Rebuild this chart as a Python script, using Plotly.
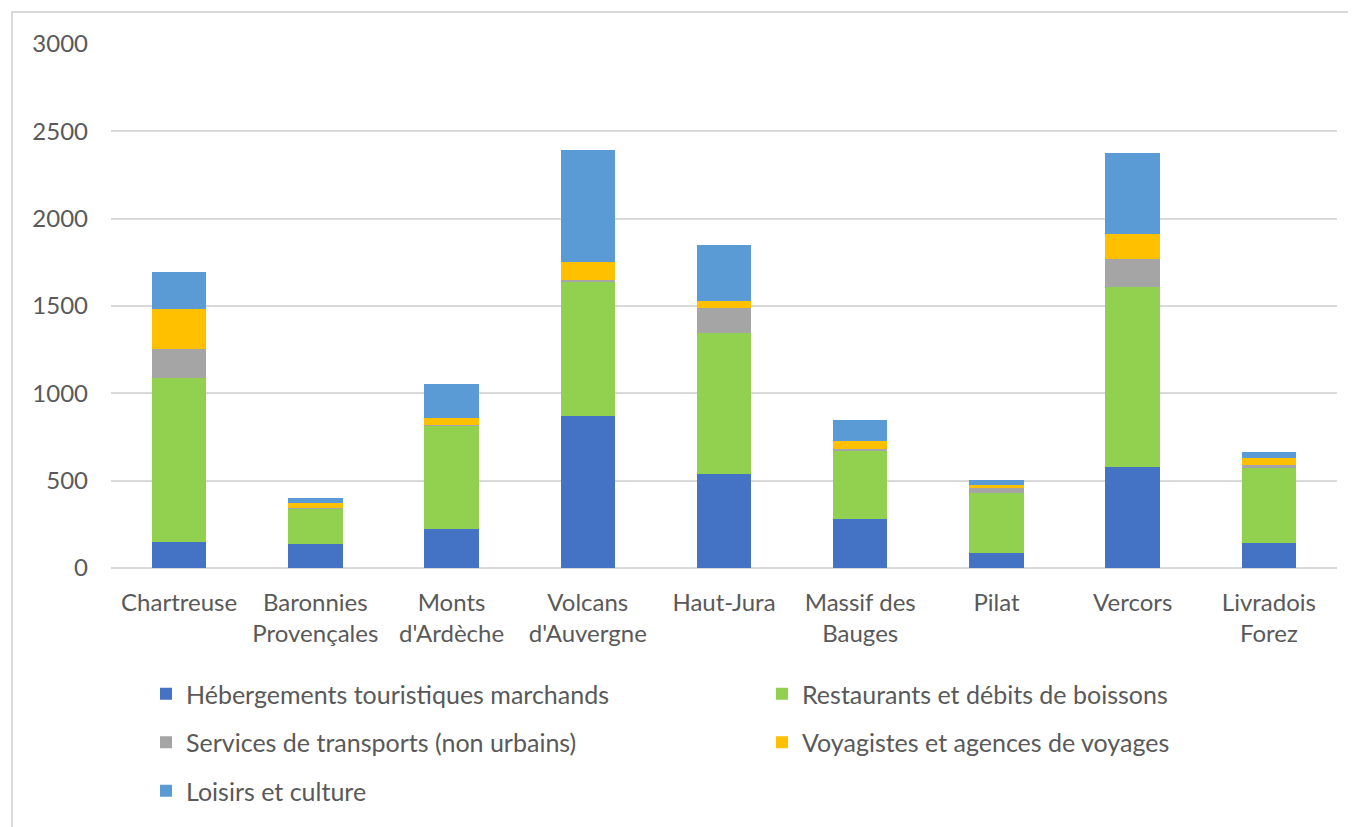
import plotly.graph_objects as go

categories = ["Chartreuse", "Baronnies<br>Provençales", "Monts<br>d'Ardèche", "Volcans<br>d'Auvergne",
              "Haut-Jura", "Massif des<br>Bauges", "Pilat", "Vercors", "Livradois<br>Forez"]

hebergements = [150, 135, 223, 872, 538, 280, 84, 580, 141]
restaurants = [940, 207, 592, 771, 805, 395, 344, 1027, 433]
transports = [165, 4, 3, 5, 147, 4, 34, 160, 16]
voyagistes = [230, 26, 39, 103, 40, 46, 11, 147, 40]
loisirs = [210, 30, 194, 642, 317, 122, 33, 463, 32]

y_ticks = [0, 500, 1000, 1500, 2000, 2500, 3000]

series = [
    ("Hébergements touristiques marchands", hebergements, "#4472C4", "legend"),
    ("Restaurants et débits de boissons", restaurants, "#92D050", "legend2"),
    ("Services de transports (non urbains)", transports, "#A5A5A5", "legend"),
    ("Voyagistes et agences de voyages", voyagistes, "#FFC000", "legend2"),
    ("Loisirs et culture", loisirs, "#5B9BD5", "legend"),
]

FONT = "Lato"
GREY = "#595959"
FS = 24

fig = go.Figure()
for i, (name, vals, color, leg) in enumerate(series):
    fig.add_trace(go.Bar(
        x=categories, y=vals, name=name, marker_color=color,
        marker_line_width=0, legend=leg, legendgroup=f"g{i}",
    ))

# page body has an 8px margin; compensate
OFF = 8
W, H = 1356 - OFF, 827 - OFF
L, R, T, B = 111 - OFF, 19, 44 - OFF, 827 - 568
pw = W - L - R
ph = H - T - B

def px_y(y):
    return (568 - y) / ph

def px_x(x):
    return (x - 111) / pw

legend_common = dict(
    orientation="v", xanchor="left", yanchor="top",
    font=dict(family=FONT, size=25, color=GREY),
    traceorder="grouped", tracegroupgap=13,
    bgcolor="rgba(0,0,0,0)", itemwidth=30,
)

fig.update_layout(
    width=W, height=H,
    margin=dict(l=L, r=R, t=T, b=B),
    barmode="stack", bargap=0.6,
    paper_bgcolor="white", plot_bgcolor="white",
    font=dict(family=FONT, size=FS, color=GREY),
    showlegend=True,
    legend=dict(x=px_x(146), y=px_y(671), **legend_common),
    legend2=dict(x=px_x(762), y=px_y(671), **legend_common),
    xaxis=dict(
        showgrid=False, showline=False, ticks="",
        tickfont=dict(family=FONT, size=FS, color=GREY),
        ticklabelstandoff=18,
    ),
    yaxis=dict(
        range=[0, 3000], tickvals=y_ticks,
        showgrid=True, gridcolor="#d9d9d9", gridwidth=2,
        zeroline=True, zerolinecolor="#d9d9d9", zerolinewidth=2,
        showline=False, ticks="",
        tickfont=dict(family=FONT, size=FS, color=GREY),
        ticklabelstandoff=22,
    ),
    shapes=[dict(
        type="rect", xref="paper", yref="paper",
        x0=px_x(12), x1=1.2, y0=-1.0, y1=px_y(12),
        line=dict(color="#d9d9d9", width=2), layer="below",
    )],
)

fig.write_html("out.html")
